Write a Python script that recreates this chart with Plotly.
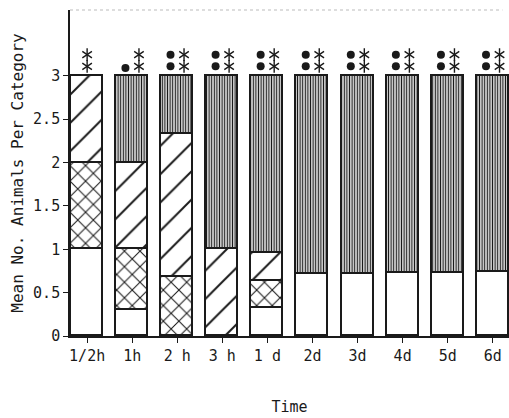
import plotly.graph_objects as go

categories = ["1/2h", "1h", "2 h", "3 h", "1 d", "2d", "3d", "4d", "5d", "6d"]
white_vals = [1.0, 0.30, 0.0, 0.0, 0.32, 0.72, 0.72, 0.73, 0.73, 0.74]
cross_vals = [1.0, 0.70, 0.68, 0.0, 0.31, 0.0, 0.0, 0.0, 0.0, 0.0]
diag_vals = [1.0, 1.00, 1.65, 1.0, 0.33, 0.0, 0.0, 0.0, 0.0, 0.0]
vert_vals = [0.0, 1.00, 0.67, 2.0, 2.04, 2.28, 2.28, 2.27, 2.27, 2.26]
asterisk_counts = [2, 2, 2, 2, 2, 2, 2, 2, 2, 2]
dot_counts = [0, 1, 2, 2, 2, 2, 2, 2, 2, 2]
y_ticks = [0, 0.5, 1, 1.5, 2, 2.5, 3]

xs = list(range(len(categories)))
FONT = "DejaVu Sans Mono"
INK = "#1a1a1a"

fig = go.Figure()
line = dict(color=INK, width=1.8)
BW = 0.71

fig.add_trace(go.Bar(x=xs, y=white_vals, width=BW,
                     marker=dict(color="white", line=line)))
fig.add_trace(go.Bar(x=xs, y=cross_vals, width=BW,
                     marker=dict(color="white", line=line,
                                 pattern=dict(shape="x", size=11, solidity=0.18,
                                              fgcolor=INK, bgcolor="white",
                                              fillmode="replace"))))
fig.add_trace(go.Bar(x=xs, y=diag_vals, width=BW,
                     marker=dict(color="white", line=line,
                                 pattern=dict(shape="/", size=20, solidity=0.1,
                                              fgcolor=INK, bgcolor="white",
                                              fillmode="replace"))))
fig.add_trace(go.Bar(x=xs, y=vert_vals, width=BW,
                     marker=dict(color="white", line=line,
                                 pattern=dict(shape="|", size=2.6, solidity=0.5,
                                              fgcolor="#1a1a1a", bgcolor="white",
                                              fillmode="replace"))))

# significance markers
rows = [3.11, 3.245]
ax_x, ax_y, dot_x, dot_y = [], [], [], []
for i, (na, nd) in enumerate(zip(asterisk_counts, dot_counts)):
    off_a = 0.15 if nd > 0 else 0.0
    for k in range(na):
        ax_x.append(i + off_a)
        ax_y.append(rows[k])
    for k in range(nd):
        dot_x.append(i - 0.15)
        dot_y.append(rows[0] - 0.02 if nd == 1 else rows[k])

for sym in ["y-up-open", "y-down-open"]:
    fig.add_trace(go.Scatter(x=ax_x, y=ax_y, mode="markers",
                             marker=dict(symbol=sym, size=8, color=INK,
                                         line=dict(color=INK, width=1.4)),
                             hoverinfo="skip"))
fig.add_trace(go.Scatter(x=dot_x, y=dot_y, mode="markers",
                         marker=dict(symbol="circle", size=8, color=INK),
                         hoverinfo="skip"))

fig.add_shape(type="line", xref="paper", yref="paper", x0=0, x1=0.985, y0=1, y1=1,
              line=dict(color="#bbbbbb", width=1, dash="dot"))

fig.update_layout(
    width=509, height=418,
    margin=dict(l=70, r=0, t=10, b=82),
    barmode="stack", showlegend=False,
    plot_bgcolor="white", paper_bgcolor="white",
    font=dict(family=FONT, color=INK, size=14),
    bargap=0,
)
fig.update_xaxes(
    range=[-0.38, 9.36], tickvals=xs, ticktext=categories,
    showline=True, linecolor=INK, linewidth=1.6,
    ticks="outside", ticklen=5, tickcolor=INK, tickwidth=1,
    showgrid=False, zeroline=False,
    tickfont=dict(size=15),
    title=dict(text="Time", font=dict(size=15), standoff=38),
)
fig.update_yaxes(
    range=[0, 3.76], tickvals=y_ticks,
    showline=True, linecolor=INK, linewidth=1.6,
    ticks="outside", ticklen=5, tickcolor=INK, tickwidth=1,
    showgrid=False, zeroline=False,
    tickfont=dict(size=15),
    title=dict(text="Mean No. Animals Per Category", font=dict(size=16), standoff=6),
)

fig.write_html("out.html")
